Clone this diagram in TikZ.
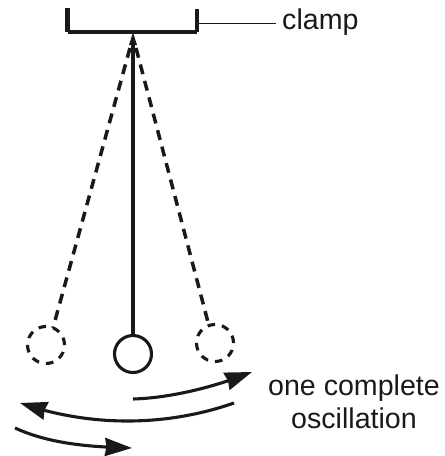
\documentclass[tikz,border=0pt]{standalone}
\usepackage{fontspec}
\setmainfont{Liberation Sans}
\usetikzlibrary{arrows.meta,bending}
\tikzset{
  x=1pt,y=-1pt,
  solidline/.style={line width=3.2pt,draw=black!90},
  sideline/.style={line width=4.2pt,draw=black!90},
  dashline/.style={line width=3.5pt,draw=black!90,dash pattern=on 10pt off 7pt},
  bob/.style={circle,draw=black!90,line width=3.1pt,fill=white,minimum size=37pt,inner sep=0pt},
  ghost/.style={circle,draw=black!90,line width=3.1pt,dash pattern=on 7.5pt off 7pt,minimum size=37pt,inner sep=0pt},
  motion/.style={line width=3.1pt,draw=black!90,-{Stealth[inset=1.5pt,length=27pt,width=18pt,flex=1]}},
  textlabel/.style={font=\fontsize{28.6pt}{33.5pt}\selectfont,text=black!90,inner sep=0pt,align=center},
}
\begin{document}
\begin{tikzpicture}
\useasboundingbox (0,0) rectangle (445,456);
\coordinate (clampTL) at (67.5,8);
\coordinate (clampBL) at (67.5,32);
\coordinate (clampBR) at (197,32);
\coordinate (clampTR) at (197,9);
\coordinate (pivot) at (133,32.5);
\coordinate (rodTop) at (133,45);
\coordinate (headL) at (129,45);
\coordinate (headR) at (137,45);
\coordinate (leaderStart) at (198,23);
\coordinate (leaderEnd) at (276,23);
\coordinate (leftTop) at (130,48);
\coordinate (rightTop) at (136,48);
\coordinate (leftEnd) at (53,328);
\coordinate (rightEnd) at (209,326);
\node[bob] (centerBob) at (133,354) {};
\node[ghost] (leftBob) at (46,345) {};
\node[ghost] (rightBob) at (215,343) {};
\node[textlabel,anchor=west] (clampLabel) at (282,22.5) {clamp};
\node[textlabel] (oscLabel) at (354,402) {one complete\\oscillation};
\draw[sideline] (clampTL) -- (clampBL);
\draw[sideline] (clampBR) -- (clampTR);
\draw[solidline,line cap=square] (clampBL) -- (clampBR);
\draw[line width=1pt,draw=black!90] (leaderStart) -- (leaderEnd);
\draw[line width=3.6pt,draw=black!90] (centerBob.north) -- (rodTop);
\path[fill=black!90] (pivot) -- (headL) -- (headR) -- cycle;
\draw[dashline] (leftTop) -- (leftEnd);
\draw[dashline] (rightTop) -- (rightEnd);
\coordinate (a1s) at (133,399);
\coordinate (a1e) at (252,372);
\coordinate (a2s) at (234,403);
\coordinate (a2e) at (20,403);
\coordinate (a3s) at (15,428);
\coordinate (a3e) at (132,448);
\draw[motion] (a1s) .. controls (170,398) and (215,387) .. (a1e);
\draw[motion] (a2s) .. controls (165,427) and (90,427) .. (a2e);
\draw[motion] (a3s) .. controls (50,444) and (90,447) .. (a3e);
\end{tikzpicture}
\end{document}
